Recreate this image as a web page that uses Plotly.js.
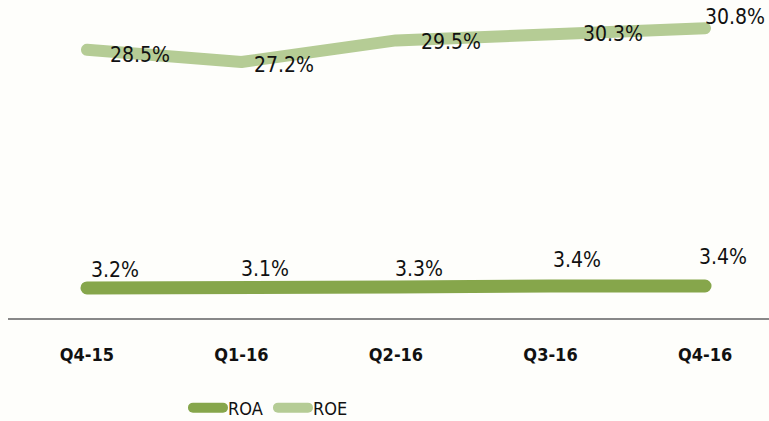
<!DOCTYPE html>
<html>
<head>
<meta charset="utf-8">
<script src="https://cdn.plot.ly/plotly-3.0.1.min.js"></script>
<style>
html,body{margin:0;padding:0;background:#fefefb;}
#chart{width:769px;height:421px;}
.scatterlayer .js-line, .legendlines path{stroke-linecap:round;stroke-linejoin:round;}
</style>
</head>
<body>
<div id="chart"></div>
<script>
const quarters = ["Q4-15", "Q1-16", "Q2-16", "Q3-16", "Q4-16"];
const roa = [3.2, 3.1, 3.3, 3.4, 3.4];
const roe = [28.5, 27.2, 29.5, 30.3, 30.8];

const FONT = "'Liberation Sans Narrow', 'DejaVu Sans Condensed', Calibri, sans-serif";
const roaColor = "#86a64b";
const roeColor = "#b5cc95";

// label offsets in pixels (style only)
const roeShift = [[53,-5],[43,-3],[55,-2],[62,-1],[30,11]];
const roaShift = [[28,18],[24,20],[23,18],[26,26],[18,29]];

const xs = quarters.map((q,i)=>i);
const annotations = [];
roe.forEach((v,i)=>annotations.push({x:i,y:v,text:v.toFixed(1)+"%",showarrow:false,xshift:roeShift[i][0],yshift:roeShift[i][1],font:{family:FONT,size:21,color:"#111"}}));
roa.forEach((v,i)=>annotations.push({x:i,y:v,text:v.toFixed(1)+"%",showarrow:false,xshift:roaShift[i][0],yshift:roaShift[i][1],font:{family:FONT,size:21,color:"#111"}}));

const traces = [
  {x:xs,y:roa,name:"ROA",type:"scatter",mode:"lines",line:{color:roaColor,width:13},hoverinfo:"skip"},
  {x:xs,y:roe,name:"ROE",type:"scatter",mode:"lines",line:{color:roeColor,width:12},hoverinfo:"skip"}
];

const layout = {
  width:769,height:421,
  paper_bgcolor:"#fefefb",plot_bgcolor:"#fefefb",
  margin:{l:8,r:0,t:10,b:103},
  showlegend:true,
  legend:{orientation:"h",x:0.2365,xanchor:"left",yref:"container",y:0.031,yanchor:"middle",
    font:{family:FONT,size:18,color:"#111"},entrywidth:40,entrywidthmode:"pixels",tracegroupgap:0},
  xaxis:{range:[-0.511,4.414],tickvals:xs,ticktext:quarters,showgrid:false,zeroline:false,
    showline:true,linecolor:"#888",linewidth:2,ticks:"outside",ticklen:19,tickcolor:"rgba(0,0,0,0)",
    tickfont:{family:FONT,size:18,color:"#111",weight:"bold"}},
  yaxis:{range:[0,32.73],visible:false,showgrid:false,zeroline:false},
  annotations:annotations
};

Plotly.newPlot("chart",traces,layout,{displayModeBar:false,staticPlot:true});
</script>
</body>
</html>
